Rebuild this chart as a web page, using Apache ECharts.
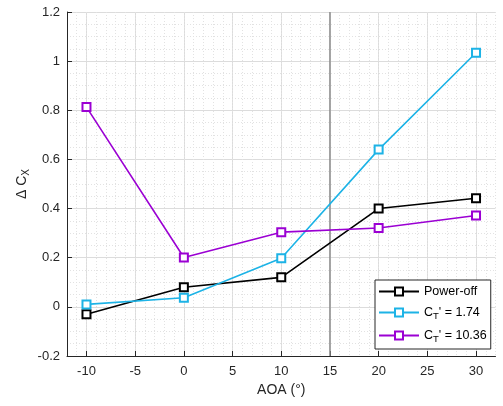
<!DOCTYPE html>
<html>
<head>
<meta charset="utf-8">
<script src="https://cdn.jsdelivr.net/npm/echarts@6/dist/echarts.min.js"></script>
<style>html,body{margin:0;padding:0;background:#fff}#c{width:503px;height:406px}</style>
</head>
<body>
<div id="c"></div>
<script>
var aoa = [-10, 0, 10, 20, 30];
var powerOff = [-0.03, 0.08, 0.12, 0.40, 0.442];
var ct174 = [0.01, 0.037, 0.198, 0.64, 1.034];
var ct1036 = [0.813, 0.201, 0.304, 0.321, 0.372];
var xTicks = [-10, -5, 0, 5, 10, 15, 20, 25, 30];
var refLineX = [15, 15];
var refLineY = [-0.2, 1.2];
var seriesNames = ['Power-off', "C_T' = 1.74", "C_T' = 10.36"];

function pairs(xs, ys) { return xs.map(function (x, i) { return [x, ys[i]]; }); }

var FONT = "'Liberation Sans', Arial, Helvetica, sans-serif";
var chart = echarts.init(document.getElementById('c'), null, { renderer: 'canvas' });

function mkSeries(name, data, color) {
  return {
    name: name, type: 'line', data: pairs(aoa, data),
    symbol: 'emptyRect', symbolSize: 8, showSymbol: true,
    lineStyle: { color: color, width: 1.6 },
    itemStyle: { color: color, borderColor: color, borderWidth: 1.6 },
    emphasis: { disabled: true }, animation: false, z: 3
  };
}

chart.setOption({
  animation: false,
  textStyle: { fontFamily: FONT },
  grid: { left: 67, top: 12, right: 7.5, bottom: 50, containLabel: false },
  legend: {
    data: seriesNames,
    orient: 'vertical', left: 375, top: 280,
    itemWidth: 40, itemHeight: 10, itemGap: 8,
    padding: [5, 4, 5, 3],
    borderColor: '#262626', borderWidth: 1, backgroundColor: '#fff',
    textStyle: {
      fontFamily: FONT, fontSize: 12.5, color: '#000',
      rich: {
        n: { fontFamily: FONT, fontSize: 12.5, color: '#000' },
        s: { fontFamily: FONT, fontSize: 9.5, color: '#000', padding: [7, 0, 0, 0] }
      }
    },
    formatter: function (name) {
      if (name.indexOf('C_T') === 0) {
        return '{n|C}{s|T}{n|' + name.slice(3) + '}';
      }
      return '{n|' + name + '}';
    }
  },
  xAxis: [{
    type: 'value', min: -12, max: 32,
    name: 'AOA (°)', nameLocation: 'middle', nameGap: 27,
    nameTextStyle: { fontFamily: FONT, fontSize: 14, color: '#262626' },
    axisLine: { show: true, onZero: false, lineStyle: { color: '#262626', width: 1 } },
    axisTick: { show: true, inside: true, length: 5, customValues: xTicks, lineStyle: { color: '#262626' } },
    axisLabel: { fontFamily: FONT, fontSize: 13, color: '#262626', margin: 9, customValues: xTicks },
    splitLine: { show: true, lineStyle: { color: '#dcdcdc', width: 1 } }
  }, {
    type: 'value', min: -12, max: 32, interval: 1, position: 'top',
    axisLine: { show: false }, axisTick: { show: false }, axisLabel: { show: false },
    splitLine: { show: true, lineStyle: { color: '#e2e2e2', width: 1, type: [1, 2] } }
  }],
  yAxis: {
    type: 'value', min: -0.2, max: 1.2, interval: 0.2,
    name: '{n|Δ C}{s|X}', nameLocation: 'middle', nameGap: 36, nameRotate: 90,
    nameMoveOverlap: false,
    nameTextStyle: {
      fontFamily: FONT, fontSize: 14, color: '#262626',
      rich: {
        n: { fontFamily: FONT, fontSize: 14, color: '#262626' },
        s: { fontFamily: FONT, fontSize: 10, color: '#262626', padding: [8, 0, 0, 0] }
      }
    },
    axisLine: { show: true, onZero: false, lineStyle: { color: '#262626', width: 1 } },
    axisTick: { show: true, inside: true, length: 5, lineStyle: { color: '#262626' } },
    axisLabel: { fontFamily: FONT, fontSize: 13, color: '#262626', margin: 7,
      formatter: function (v) { return String(Math.round(v * 10) / 10); } },
    splitLine: { show: true, lineStyle: { color: '#dcdcdc', width: 1 } },
    minorTick: { show: false, splitNumber: 4 },
    minorSplitLine: { show: true, lineStyle: { color: '#e2e2e2', width: 1, type: [1, 2] } }
  },
  series: [
    {
      name: 'ref', type: 'line', data: pairs(refLineX, refLineY),
      showSymbol: false, symbol: 'none',
      lineStyle: { color: '#8c8c8c', width: 1.5 },
      emphasis: { disabled: true }, silent: true, z: 2
    },
    mkSeries(seriesNames[0], powerOff, '#000000'),
    mkSeries(seriesNames[1], ct174, '#1DB3E6'),
    mkSeries(seriesNames[2], ct1036, '#9B00D3')
  ]
});
</script>
</body>
</html>
